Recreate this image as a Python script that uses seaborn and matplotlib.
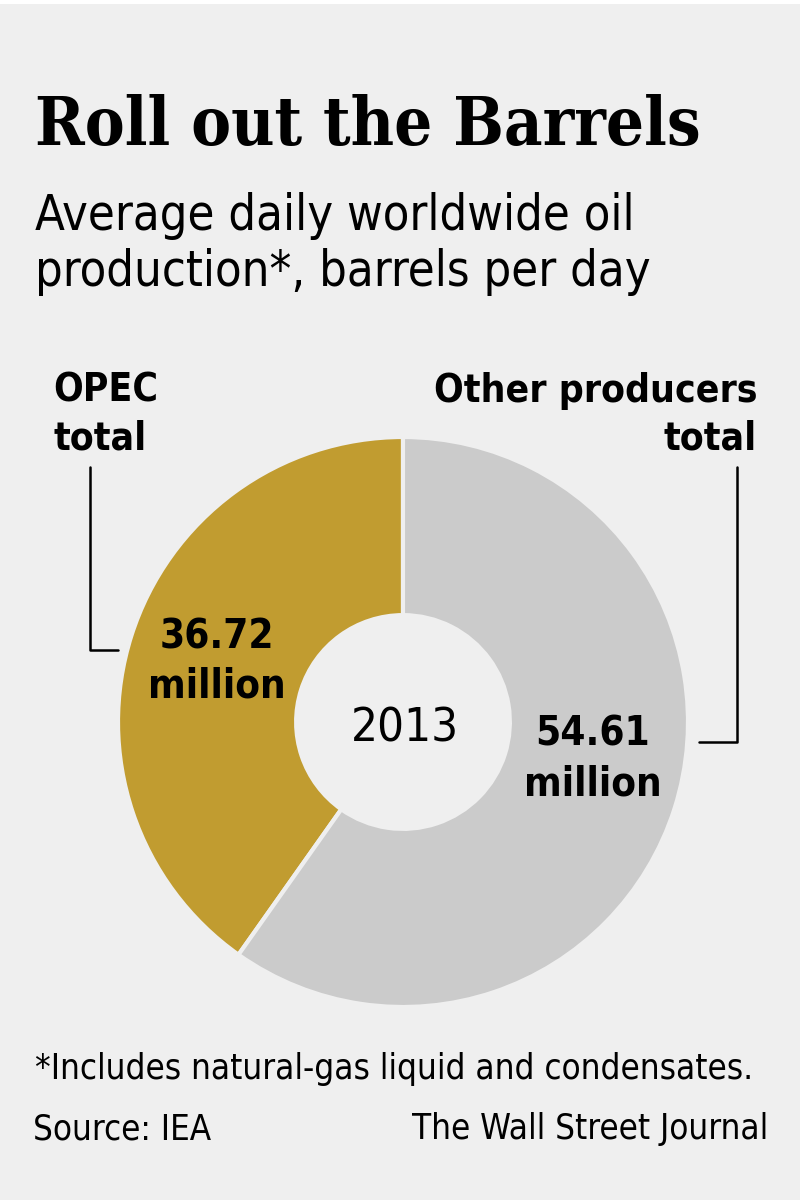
import matplotlib
matplotlib.use("Agg")
import matplotlib.pyplot as plt
import seaborn as sns

# datos
groups = ["OPEC", "Other producers"]
production = [36.72, 54.61]
value_labels = ["36.72\nmillion", "54.61\nmillion"]
group_labels = ["OPEC\ntotal", "Other producers\ntotal"]
year = "2013"
colors = ["#c19c30", "#cbcbcb"]

sns.set_theme(style="white")
bg = "#efefef"
sans = dict(family="DejaVu Sans", fontstretch="condensed", color="black")

fig = plt.figure(figsize=(8, 12), dpi=100, facecolor=bg)

# donut
ax = fig.add_axes([118 / 800, 193 / 1200, 570 / 800, 570 / 1200])
ax.pie(production, colors=colors, startangle=90, counterclock=True, radius=1,
       wedgeprops=dict(width=0.625, edgecolor=bg, linewidth=3))
ax.set_xlim(-1, 1)
ax.set_ylim(-1, 1)
ax.set_aspect("equal")
ax.axis("off")

# capa para textos y lineas, en pixeles (encima del donut)
over = fig.add_axes([0, 0, 1, 1])
over.set_xlim(0, 800)
over.set_ylim(1200, 0)
over.axis("off")
over.set_zorder(5)
over.axhspan(0, 4, color="white", lw=0)

over.text(35, 145, "Roll out the Barrels", fontsize=48, fontweight="bold",
          family="DejaVu Serif", fontstretch="condensed", color="black", va="baseline")
over.text(35, 286, "Average daily worldwide oil\nproduction*, barrels per day",
          fontsize=35, va="baseline", linespacing=1.2, **sans)

over.text(53, 450, group_labels[0], fontsize=28, fontweight="bold",
          va="baseline", ha="left", linespacing=1.35, **sans)
over.text(757, 450, group_labels[1], fontsize=28, fontweight="bold",
          va="baseline", ha="right", multialignment="right", linespacing=1.35, **sans)

over.text(217, 698, value_labels[0], fontsize=29, fontweight="bold",
          va="baseline", ha="center", linespacing=1.3, **sans)
over.text(593, 795, value_labels[1], fontsize=29, fontweight="bold",
          va="baseline", ha="center", linespacing=1.3, **sans)
over.text(405, 742, year, fontsize=34, va="baseline", ha="center", **sans)

over.plot([90, 90, 118], [467, 650, 650], color="black", lw=1.8)
over.plot([737, 737, 699], [467, 742, 742], color="black", lw=1.8)

over.text(35, 1079, "*Includes natural-gas liquid and condensates.", fontsize=25,
          va="baseline", **sans)
over.text(33, 1139, "Source: IEA", fontsize=25, va="baseline", **sans)
over.text(768, 1139, "The Wall Street Journal", fontsize=25, va="baseline", ha="right", **sans)

fig.savefig("out.png", dpi=100, facecolor=bg)
